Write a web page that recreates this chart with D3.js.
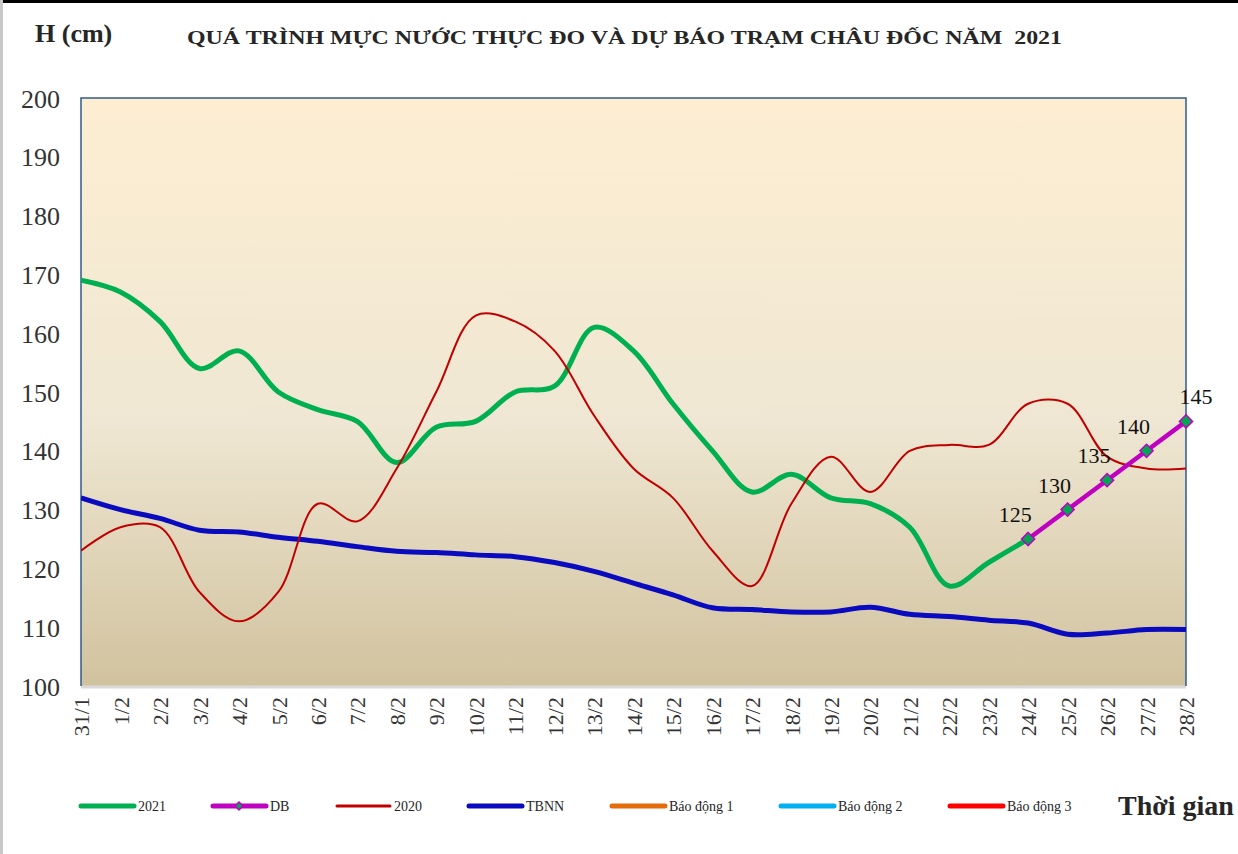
<!DOCTYPE html>
<html>
<head>
<meta charset="utf-8">
<script src="https://cdn.jsdelivr.net/npm/d3@7"></script>
<style>
  body { margin: 0; background: #fff; }
  text { font-family: "Liberation Serif", "Times New Roman", serif; fill: #262626; }
</style>
</head>
<body>
<div id="chart"></div>
<script>
// ngày quan trắc
const dates = ['31/1', '1/2', '2/2', '3/2', '4/2', '5/2', '6/2', '7/2', '8/2', '9/2', '10/2', '11/2', '12/2', '13/2',
  '14/2', '15/2', '16/2', '17/2', '18/2', '19/2', '20/2', '21/2', '22/2', '23/2', '24/2', '25/2', '26/2', '27/2', '28/2']

// thực đo 2021 (đến 24/2)
const h2021 = [169, 167, 162, 154, 157, 150, 147, 145, 138, 144, 145, 150, 151, 161,
  157, 148, 140, 133, 136, 132, 131, 127, 117, 121, 125]

// dự báo
const dbDates = ['24/2', '25/2', '26/2', '27/2', '28/2']
const dbValues = [125, 130, 135, 140, 145]

// cùng kỳ 2020
const h2020 = [123, 127, 127, 116, 111, 116, 131, 128, 137, 150, 163, 162, 157, 146,
  137, 132, 123, 117, 131, 139, 133, 140, 141, 141, 148, 148, 139, 137, 137]

// trung bình nhiều năm
const tbnn = [132, 130, 128.5, 126.5, 126.2, 125.3, 124.6, 123.7, 122.9, 122.7, 122.3, 122, 121, 119.5,
  117.5, 115.5, 113.3, 113, 112.6, 112.6, 113.4, 112.2, 111.8, 111.2, 110.7, 108.8, 109, 109.6, 109.6]

// mức báo động trạm Châu Đốc (nằm ngoài khung 100-200)
const alarmNames = ['Báo động 1', 'Báo động 2', 'Báo động 3']
const alarmLevels = [350, 400, 450]

const yTicks = [100, 110, 120, 130, 140, 150, 160, 170, 180, 190, 200]

const W = 1238, H = 854
const margin = { top: 98, right: 52, bottom: 168, left: 81 }
const width = W - margin.left - margin.right
const height = H - margin.top - margin.bottom
const serif = '"Liberation Serif", "Times New Roman", serif'

const svg = d3.select('#chart').append('svg')
  .attr('width', W)
  .attr('height', H)

// khung ngoài
svg.append('rect').attr('x', 0).attr('y', 0).attr('width', W).attr('height', 3).attr('fill', '#000')
svg.append('rect').attr('x', 0).attr('y', 0).attr('width', 3).attr('height', H).attr('fill', '#c8c8c8')

const defs = svg.append('defs')
const grad = defs.append('linearGradient').attr('id', 'bg').attr('x1', 0).attr('y1', 0).attr('x2', 0).attr('y2', 1)
grad.append('stop').attr('offset', '0%').attr('stop-color', '#fdeed2')
grad.append('stop').attr('offset', '55%').attr('stop-color', '#efe7d3')
grad.append('stop').attr('offset', '100%').attr('stop-color', '#d1c29e')

defs.append('clipPath').attr('id', 'clip')
  .append('rect').attr('width', width).attr('height', height)

const g = svg.append('g')
  .attr('transform', 'translate(' + margin.left + ',' + margin.top + ')')

const x = d3.scalePoint().domain(dates).range([0, width])
const y = d3.scaleLinear().domain([100, 200]).range([height, 0])

g.append('rect').attr('width', width).attr('height', height).attr('fill', 'url(#bg)')

// trục
const yAxis = g.append('g')
  .call(d3.axisLeft(y).tickValues(yTicks).tickSize(0).tickPadding(21))
  .attr('font-family', serif)
yAxis.select('.domain').remove()
yAxis.selectAll('text')
  .style('font-family', serif)
  .style('font-size', '26px')
  .style('fill', '#333')
  .attr('dy', '0.35em')

const xAxis = g.append('g')
  .attr('transform', 'translate(0,' + height + ')')
  .call(d3.axisBottom(x).tickSize(0))
  .attr('font-family', serif)
xAxis.select('.domain').remove()
xAxis.selectAll('text')
  .style('font-family', serif)
  .style('font-size', '22px')
  .style('fill', '#333')
  .attr('text-anchor', 'end')
  .attr('transform', 'rotate(-90)')
  .attr('x', -11)
  .attr('y', 0)
  .attr('dy', '0.35em')

// khung vùng vẽ
g.append('line').attr('x1', 0).attr('x2', width).attr('y1', height + 1).attr('y2', height + 1)
  .attr('stroke', '#d9d9d9').attr('stroke-width', 3)
g.append('path')
  .attr('d', 'M0,' + height + 'V0H' + width + 'V' + height)
  .attr('fill', 'none').attr('stroke', '#2f5b8f').attr('stroke-width', 1.5)

const plot = g.append('g').attr('clip-path', 'url(#clip)')
const smooth = d3.line()
  .x(d => x(d.date))
  .y(d => y(d.value))
  .curve(d3.curveCatmullRom.alpha(0.5))

const toPoints = (ds, vs) => vs.map((v, i) => ({ date: ds[i], value: v }))

alarmLevels.forEach((lv, i) => {
  plot.append('path')
    .datum(dates.map(d => ({ date: d, value: lv })))
    .attr('d', smooth)
    .attr('fill', 'none')
    .attr('stroke', ['#e46c0a', '#00b0f0', '#ff0000'][i])
    .attr('stroke-width', 4)
})

plot.append('path')
  .datum(toPoints(dates, tbnn))
  .attr('d', smooth)
  .attr('fill', 'none').attr('stroke', '#0a0abf').attr('stroke-width', 5)

plot.append('path')
  .datum(toPoints(dates, h2021))
  .attr('d', smooth)
  .attr('fill', 'none').attr('stroke', '#00b050').attr('stroke-width', 5)

plot.append('path')
  .datum(toPoints(dates, h2020))
  .attr('d', smooth)
  .attr('fill', 'none').attr('stroke', '#c00000').attr('stroke-width', 2)

const dbPoints = toPoints(dbDates, dbValues)
g.append('path')
  .datum(dbPoints)
  .attr('d', d3.line().x(d => x(d.date)).y(d => y(d.value)))
  .attr('fill', 'none').attr('stroke', '#c000c0').attr('stroke-width', 4.5)

g.selectAll('.mk')
  .data(dbPoints)
  .join('path')
  .attr('class', 'mk')
  .attr('d', d3.symbol(d3.symbolDiamond2, 110))
  .attr('transform', d => 'translate(' + x(d.date) + ',' + y(d.value) + ')')
  .attr('fill', '#00a650').attr('stroke', '#c000c0').attr('stroke-width', 1.5)

g.selectAll('.lbl')
  .data(dbPoints)
  .join('text')
  .attr('class', 'lbl')
  .attr('x', (d, i) => x(d.date) + (i === dbPoints.length - 1 ? 10 : -13))
  .attr('y', d => y(d.value) - 17)
  .attr('text-anchor', 'middle')
  .style('font-size', '22px')
  .style('fill', '#111')
  .text(d => d.value)

// tiêu đề
svg.append('text').attr('x', 35).attr('y', 42)
  .style('font-size', '26px').style('font-weight', 'bold').text('H (cm)')
svg.append('text').attr('x', 187).attr('y', 44)
  .style('font-size', '19px').style('font-weight', 'bold').style('white-space', 'pre')
  .attr('textLength', 875).attr('lengthAdjust', 'spacingAndGlyphs')
  .text('QUÁ TRÌNH MỰC NƯỚC THỰC ĐO VÀ DỰ BÁO TRẠM CHÂU ĐỐC NĂM  2021')
svg.append('text').attr('x', 1118).attr('y', 815)
  .style('font-size', '28px').style('font-weight', 'bold').text('Thời gian')

// chú giải
const legendItems = [
  { name: '2021', color: '#00b050', w: 5, x0: 81 },
  { name: 'DB', color: '#c000c0', w: 5, x0: 213, marker: true },
  { name: '2020', color: '#c00000', w: 3, x0: 337 },
  { name: 'TBNN', color: '#0a0abf', w: 5, x0: 469 },
  { name: alarmNames[0], color: '#e46c0a', w: 5, x0: 612 },
  { name: alarmNames[1], color: '#00b0f0', w: 5, x0: 781 },
  { name: alarmNames[2], color: '#ff0000', w: 5, x0: 950 }
]
const legend = svg.selectAll('.leg')
  .data(legendItems)
  .join('g')
  .attr('class', 'leg')
  .attr('transform', d => 'translate(' + d.x0 + ',806)')
legend.append('line')
  .attr('x1', 0).attr('x2', 53)
  .attr('stroke', d => d.color).attr('stroke-width', d => d.w).attr('stroke-linecap', 'round')
legend.filter(d => d.marker).append('path')
  .attr('d', d3.symbol(d3.symbolDiamond2, 40))
  .attr('transform', 'translate(26,0)')
  .attr('fill', '#00a650').attr('stroke', '#c000c0').attr('stroke-width', 1.5)
legend.append('text')
  .attr('x', 57).attr('dy', '0.35em')
  .style('font-size', '14px')
  .text(d => d.name)
</script>
</body>
</html>
